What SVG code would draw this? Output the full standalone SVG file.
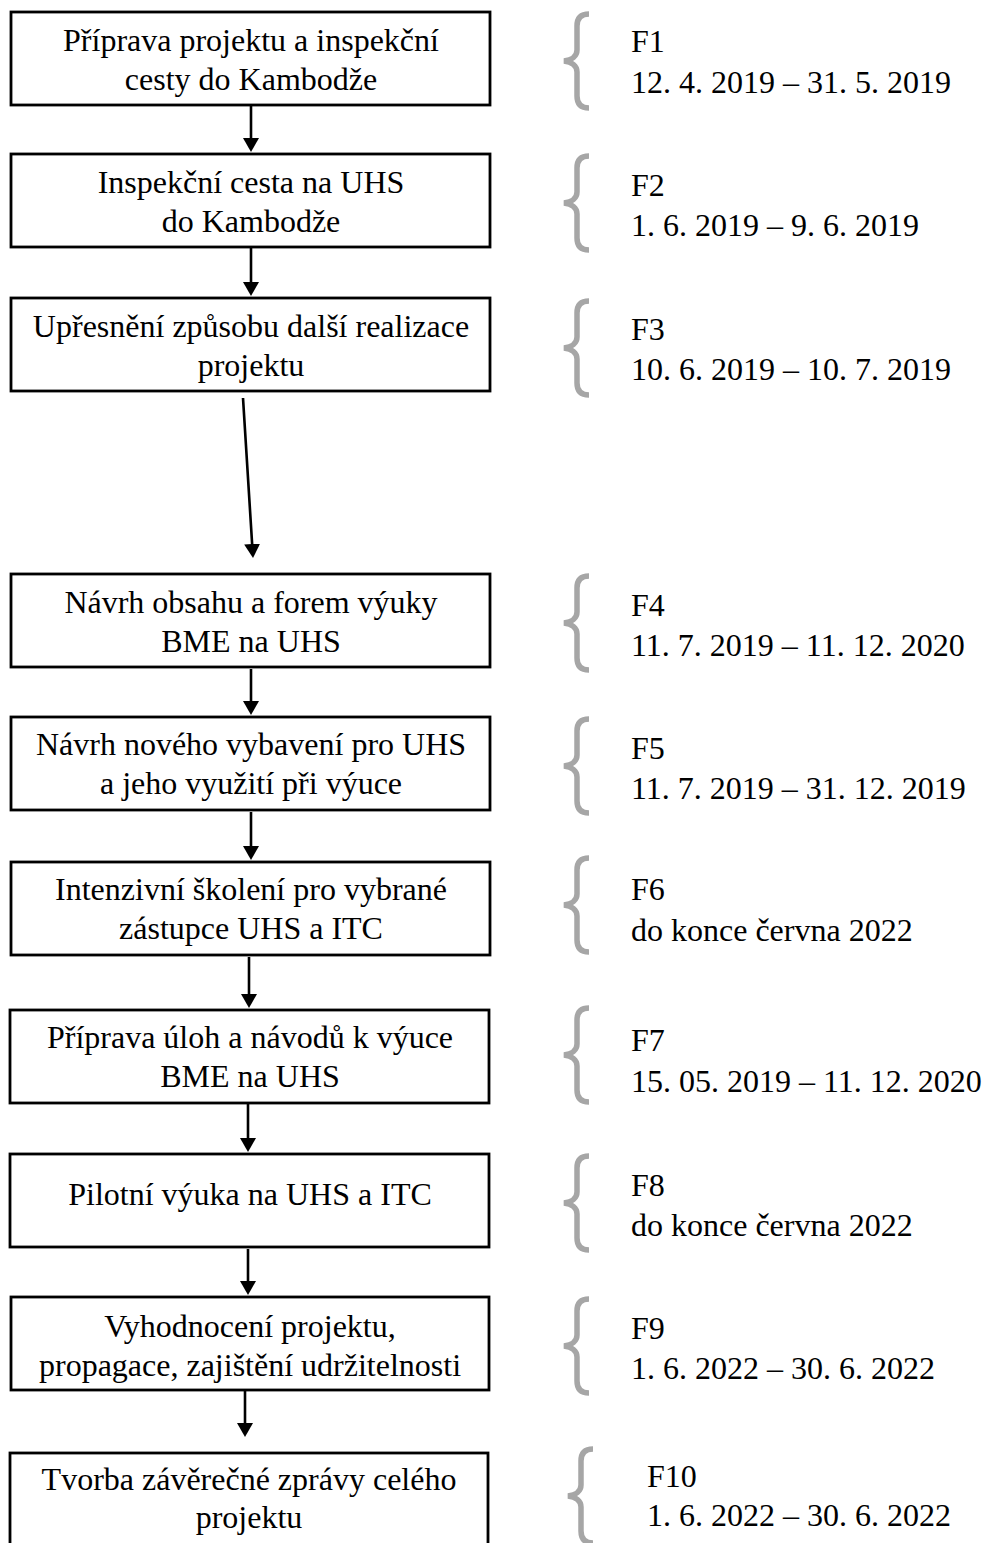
<svg xmlns="http://www.w3.org/2000/svg" width="986" height="1543" viewBox="0 0 986 1543">
<style>
.box{fill:#fff;stroke:#000;stroke-width:2.8}
.t{font-family:"Liberation Serif","Times New Roman",serif;font-size:32px;fill:#000}
.c{text-anchor:middle}
.brace{fill:none;stroke:#a6a6a6;stroke-width:5.5}
.conn{fill:none;stroke:#000;stroke-width:2.6;marker-end:url(#ah)}
</style>
<defs>
<marker id="ah" markerUnits="userSpaceOnUse" markerWidth="16" markerHeight="16" refX="4" refY="8" orient="auto">
<path d="M0,0 L14,8 L0,16 Z" fill="#000"/>
</marker>
<path id="br" class="brace" d="M26,1 C18,1 14,5 14,13 L14,37 C14,43 9,47 1,48 C9,49 14,53 14,59 L14,83 C14,91 18,95 26,95"/>
</defs>
<rect width="986" height="1543" fill="#fff"/>
<g id="connectors">
<line class="conn" x1="251" y1="106" x2="251" y2="142"/>
<line class="conn" x1="251" y1="248" x2="251" y2="286"/>
<line class="conn" x1="243" y1="398" x2="252.4" y2="548"/>
<line class="conn" x1="251" y1="669" x2="251" y2="705"/>
<line class="conn" x1="251" y1="812" x2="251" y2="850"/>
<line class="conn" x1="249" y1="957" x2="249" y2="998"/>
<line class="conn" x1="248" y1="1104" x2="248" y2="1142"/>
<line class="conn" x1="248" y1="1249" x2="248" y2="1285"/>
<line class="conn" x1="245" y1="1391" x2="245" y2="1427"/>
</g>
<g id="n1"><rect class="box" x="11" y="12" width="479" height="93"/><text class="t c" x="251" y="51">Příprava projektu a inspekční</text><text class="t c" x="251" y="90">cesty do Kambodže</text></g>
<g id="n2"><rect class="box" x="11" y="154" width="479" height="93"/><text class="t c" x="251" y="193">Inspekční cesta na UHS</text><text class="t c" x="251" y="232">do Kambodže</text></g>
<g id="n3"><rect class="box" x="11" y="298" width="479" height="93"/><text class="t c" x="251" y="337">Upřesnění způsobu další realizace</text><text class="t c" x="251" y="376">projektu</text></g>
<g id="n4"><rect class="box" x="11" y="574" width="479" height="93"/><text class="t c" x="251" y="613">Návrh obsahu a forem výuky</text><text class="t c" x="251" y="652">BME na UHS</text></g>
<g id="n5"><rect class="box" x="11" y="717" width="479" height="93"/><text class="t c" x="251" y="755">Návrh nového vybavení pro UHS</text><text class="t c" x="251" y="794">a jeho využití při výuce</text></g>
<g id="n6"><rect class="box" x="11" y="862" width="479" height="93"/><text class="t c" x="251" y="900">Intenzivní školení pro vybrané</text><text class="t c" x="251" y="939">zástupce UHS a ITC</text></g>
<g id="n7"><rect class="box" x="10" y="1010" width="479" height="93"/><text class="t c" x="250" y="1048">Příprava úloh a návodů k výuce</text><text class="t c" x="250" y="1087">BME na UHS</text></g>
<g id="n8"><rect class="box" x="10" y="1154" width="479" height="93"/><text class="t c" x="250" y="1205">Pilotní výuka na UHS a ITC</text></g>
<g id="n9"><rect class="box" x="11" y="1297" width="478" height="93"/><text class="t c" x="250" y="1337">Vyhodnocení projektu,</text><text class="t c" x="250" y="1376">propagace, zajištění udržitelnosti</text></g>
<g id="n10"><rect class="box" x="10" y="1453" width="478" height="120"/><text class="t c" x="249" y="1490">Tvorba závěrečné zprávy celého</text><text class="t c" x="249" y="1528">projektu</text></g>
<g id="f1"><use href="#br" x="563" y="13"/><text class="t" x="631" y="52">F1</text><text class="t" x="631" y="93">12. 4. 2019 – 31. 5. 2019</text></g>
<g id="f2"><use href="#br" x="563" y="155"/><text class="t" x="631" y="196">F2</text><text class="t" x="631" y="236">1. 6. 2019 – 9. 6. 2019</text></g>
<g id="f3"><use href="#br" x="563" y="300"/><text class="t" x="631" y="340">F3</text><text class="t" x="631" y="380">10. 6. 2019 – 10. 7. 2019</text></g>
<g id="f4"><use href="#br" x="563" y="575"/><text class="t" x="631" y="616">F4</text><text class="t" x="631" y="656">11. 7. 2019 – 11. 12. 2020</text></g>
<g id="f5"><use href="#br" x="563" y="718"/><text class="t" x="631" y="759">F5</text><text class="t" x="631" y="799">11. 7. 2019 – 31. 12. 2019</text></g>
<g id="f6"><use href="#br" x="563" y="857"/><text class="t" x="631" y="900">F6</text><text class="t" x="631" y="941">do konce června 2022</text></g>
<g id="f7"><use href="#br" x="563" y="1007"/><text class="t" x="631" y="1051">F7</text><text class="t" x="631" y="1092">15. 05. 2019 – 11. 12. 2020</text></g>
<g id="f8"><use href="#br" x="563" y="1155"/><text class="t" x="631" y="1196">F8</text><text class="t" x="631" y="1236">do konce června 2022</text></g>
<g id="f9"><use href="#br" x="563" y="1298"/><text class="t" x="631" y="1339">F9</text><text class="t" x="631" y="1379">1. 6. 2022 – 30. 6. 2022</text></g>
<g id="f10"><use href="#br" x="567" y="1448"/><text class="t" x="647" y="1487">F10</text><text class="t" x="647" y="1526">1. 6. 2022 – 30. 6. 2022</text></g>
</svg>
